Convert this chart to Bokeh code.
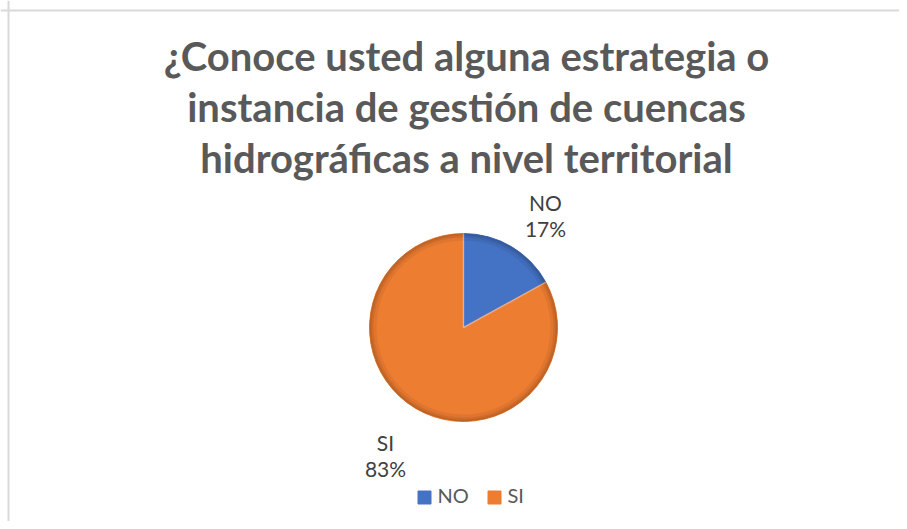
import math
from bokeh.plotting import figure
from bokeh.models import Range1d, Span
from bokeh.core.properties import value
from bokeh.embed import file_html
from bokeh.resources import INLINE

# ---- data ----
categories = ["NO", "SI"]
percent = [17, 83]
colors = ["#4472C4", "#ED7D31"]
title_lines = ["¿Conoce usted alguna estrategia o",
               "instancia de gestión de cuencas",
               "hidrográficas a nivel territorial"]

# ---- layout (reference pixel -> data) ----
W, H = 899, 521
def px(x):
    return x
def py(y):
    return H - y

p = figure(width=W, height=H, output_backend="svg", toolbar_location=None,
           x_range=Range1d(0, W), y_range=Range1d(0, H),
           min_border_left=0, min_border_right=0, min_border_bottom=0,
           min_border_top=0)
p.axis.visible = False
p.grid.visible = False
p.outline_line_color = None
p.background_fill_color = "white"
p.border_fill_color = "white"

# chart frame (top and left edges visible)
p.add_layout(Span(location=py(10), dimension="width", line_color="#d9d9d9", line_width=2))
p.add_layout(Span(location=px(8), dimension="height", line_color="#d9d9d9", line_width=2))

FONT = value("Lato")

# title
mids_y = [55, 106, 157]
for line, m in zip(title_lines, mids_y):
    p.text(x=[px(466)], y=[py(m)], text=[line], text_font=FONT,
           text_font_size="40px", text_font_style="bold", text_color="#595959",
           text_align="center", text_baseline="middle")

# pie
cx, cy, r = px(463), py(327), 94
total = sum(percent)
starts, ends = [], []
a = math.pi / 2
for v in percent:
    s = a
    e = a - 2 * math.pi * v / total
    starts.append(s); ends.append(e)
    a = e

n = len(percent)
p.wedge(x=[cx] * n, y=[cy] * n, radius=r,
        start_angle=starts, end_angle=ends, direction="clock",
        fill_color=colors, line_color=colors, line_width=1)
# bevel-like shading on rim
for w, al in [(7, 0.06), (4, 0.07), (2, 0.08)]:
    p.annular_wedge(x=[cx] * n, y=[cy] * n,
                    inner_radius=r - w, outer_radius=r,
                    start_angle=starts, end_angle=ends, direction="clock",
                    fill_color="black", fill_alpha=al, line_color=None)
# light seam lines between slices
for ang in starts:
    p.segment(x0=[cx], y0=[cy], x1=[cx + r * math.cos(ang)],
              y1=[cy + r * math.sin(ang)], line_color="white",
              line_alpha=0.35, line_width=1.5)

# data labels
label_pos = [(545, 202), (385, 442)]
for cat, v, (lx, ly) in zip(categories, percent, label_pos):
    p.text(x=[px(lx), px(lx)], y=[py(ly), py(ly + 26)],
           text=[cat, f"{v}%"], text_font=FONT, text_font_size="21px",
           text_color="#404040", text_align="center", text_baseline="middle")

# legend
leg_sq_x = [424, 494]
leg_txt_x = [437, 507]
for cat, c, sx, tx in zip(categories, colors, leg_sq_x, leg_txt_x):
    p.scatter(x=[px(sx)], y=[py(497)], marker="square", size=13,
              fill_color=c, line_color=c)
    p.text(x=[px(tx)], y=[py(494)], text=[cat], text_font=FONT,
           text_font_size="20px", text_color="#595959",
           text_align="left", text_baseline="middle")

open("out.html", "w").write(file_html(p, INLINE))
